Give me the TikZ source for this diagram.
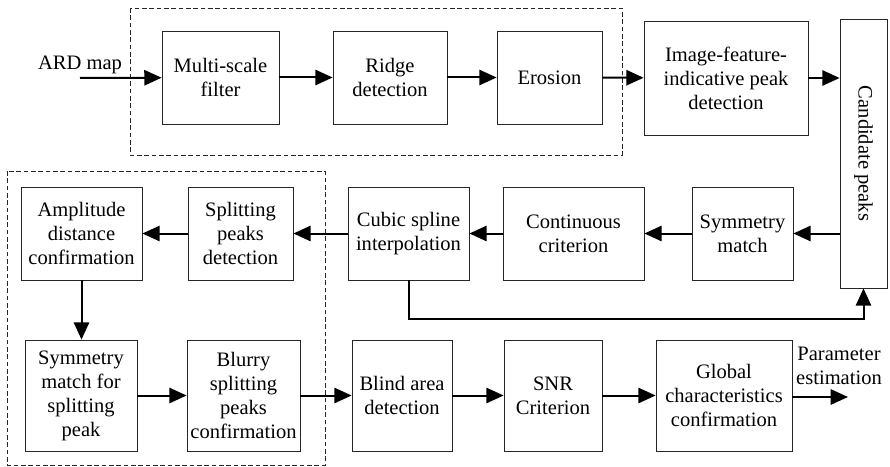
\documentclass[tikz,border=0pt]{standalone}
\usepackage{fontspec}
\setmainfont{Liberation Serif}
\usetikzlibrary{positioning, arrows.meta}

\begin{document}
\begin{tikzpicture}[x=0.75pt, y=-0.75pt,
            every node/.style={font=\fontsize{15.4}{18}\selectfont},
            bx/.style={draw=black!85, line width=0.6pt, align=center, inner sep=2pt},
            dbx/.style={draw=black!85, line width=0.6pt, dash pattern=on 3.5pt off 2pt},
            ->/.style={-{Triangle[length=13pt, width=11.5pt]}, line width=1.5pt}]
          \useasboundingbox (0,0) rectangle (890,467);
          \draw[dbx] (130,8) rectangle (622,155);
          \draw[dbx] (7,171) rectangle (325,465);
          % first row
          \node (ardlbl) at (80,65) {ARD map};
          \coordinate (ard) at (80,78);
          \node[bx, minimum width=87.75pt, minimum height=69.75pt] (filt) at (220.5,77.5) {Multi-scale\\filter};
          \node[bx, minimum width=85.5pt, minimum height=69.75pt] (ridge) at (390,77.5) {Ridge\\detection};
          \node[bx, minimum width=78.75pt, minimum height=69.75pt] (eros) at (549.5,77.5) {Erosion};
          \node[bx, minimum width=123pt, minimum height=85.5pt] (imgpk) at (726,78) {Image-feature-\\indicative peak\\detection};
          \node[bx, minimum width=35.25pt, minimum height=201.75pt] (cand) at (863.5,153.5) {\rotatebox{-90}{Candidate peaks}};
          % second row
          \node[bx, minimum width=90.75pt, minimum height=69.75pt] (amp) at (81.5,233.5) {Amplitude\\distance\\confirmation};
          \node[bx, minimum width=78.75pt, minimum height=69.75pt] (split) at (240.5,233.5) {Splitting\\peaks\\detection};
          \node[bx, minimum width=90.75pt, minimum height=69.75pt] (cubic) at (408.5,233.5) {Cubic spline\\interpolation};
          \node[bx, minimum width=105.75pt, minimum height=69.75pt] (cont) at (573.5,233.5) {Continuous\\criterion};
          \node[bx, minimum width=75.75pt, minimum height=69.75pt] (sym) at (742.5,233.5) {Symmetry\\match};
          % third row
          \node[bx, minimum width=84pt, minimum height=83.25pt] (symsp) at (81,395.5) {Symmetry\\match for\\splitting\\peak};
          \node[bx, minimum width=84.75pt, minimum height=83.25pt] (blurry) at (243.5,395.5) {Blurry\\splitting\\peaks\\confirmation};
          \node[bx, minimum width=75pt, minimum height=83.25pt] (blind) at (402,395.5) {Blind area\\detection};
          \node[bx, minimum width=73.5pt, minimum height=83.25pt] (snr) at (553,395.5) {SNR\\Criterion};
          \node[bx, minimum width=102pt, minimum height=83.25pt] (glob) at (724,395.5) {Global\\characteristics\\confirmation};
          \node[align=center] (outlbl) at (839,366) {Parameter\\estimation};
          \coordinate (out) at (848,397);
          \draw [->] (ard) to (filt);
          \draw [->] (filt) to (ridge);
          \draw [->] (ridge) to (eros);
          \draw [->] (eros) to (imgpk);
          \draw [->] (imgpk.east) to (imgpk.east -| cand.west);
          \draw [->] (cand.west |- sym.east) to (sym);
          \draw [->] (sym) to (cont);
          \draw [->] (cont) to (cubic);
          \draw [->] (cubic) to (split);
          \draw [->] (split) to (amp);
          \draw [->] (cubic.south) -- ++(0,39) -| (cand.south);
          \draw [->] (amp.south) to (amp.south |- symsp.north);
          \draw [->] (symsp) to (blurry);
          \draw [->] (blurry) to (blind);
          \draw [->] (blind) to (snr);
          \draw [->] (snr) to (glob);
          \draw [->] (glob.east |- out) to (out);
        \end{tikzpicture}
\end{document}
